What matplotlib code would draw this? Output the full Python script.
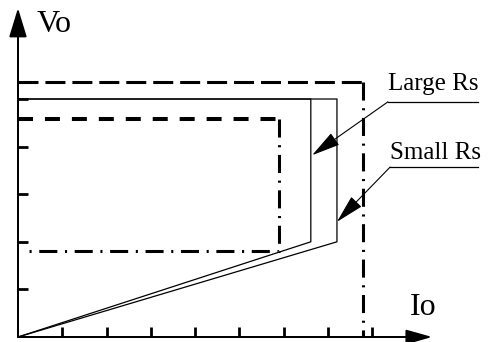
import matplotlib
matplotlib.use('Agg')
import matplotlib.pyplot as plt

plt.rcParams['font.family'] = ['Liberation Serif', 'DejaVu Serif']
plt.rcParams['lines.scale_dashes'] = False

# tick positions (arbitrary units)
x_ticks = [1, 2, 3, 4, 5, 6, 7, 8]
y_ticks = [1, 2, 3, 4, 5]

# output characteristic: Vo set point, knee voltage, current limits
vo_set = 5.0
v_knee = 2.0
i_limit_large = 6.61   # large Rs
i_limit_small = 7.20   # small Rs

# outer (max) and inner (min) spec boxes
outer_v, outer_i = 5.36, 7.79
inner_v, inner_i, inner_vlow, inner_i0 = 4.59, 5.89, 1.81, 0.16

# annotation positions
large_lbl = (8.35, 4.94)
large_tip = (6.64, 3.82)
small_lbl = (8.40, 3.57)
small_tip = (7.20, 2.42)
lbl_end = 10.38

fig = plt.figure(figsize=(4.89, 3.42), dpi=100)
ax = fig.add_axes([0, 0, 1, 1])
ax.set_xlim(-0.406, 10.632)
ax.set_ylim(-0.105, 7.08)

for s in ['top', 'right']:
    ax.spines[s].set_visible(False)
ax.spines['left'].set_position(('data', 0))
ax.spines['bottom'].set_position(('data', 0))
ax.spines['left'].set_bounds(0, 6.5)
ax.spines['bottom'].set_bounds(0, 9.0)
ax.spines['left'].set_linewidth(1.4)
ax.spines['bottom'].set_linewidth(1.4)
ax.set_xticks(x_ticks)
ax.set_yticks(y_ticks)
ax.set_xticklabels([])
ax.set_yticklabels([])
ax.tick_params(direction='in', length=7, width=2.0)

# axis arrows
ax.annotate('', xy=(0, 6.91), xytext=(0, 0),
            arrowprops=dict(arrowstyle='-|>,head_length=18,head_width=5.5',
                            mutation_scale=1, lw=1.4, color='k',
                            shrinkA=0, shrinkB=0))
ax.annotate('', xy=(9.35, 0), xytext=(0, 0),
            arrowprops=dict(arrowstyle='-|>,head_length=16,head_width=4.5',
                            mutation_scale=1, lw=1.4, color='k',
                            shrinkA=0, shrinkB=0))
ax.text(0.41, 6.41, 'Vo', fontsize=23)
ax.text(8.85, 0.46, 'Io', fontsize=23)

dashdot = (0, (13, 5.5, 1.5, 5.5))

# outer box
ax.plot([0, outer_i], [outer_v, outer_v], color='k', lw=2.2,
        linestyle=(0, (14.4, 5)))
ax.plot([outer_i, outer_i], [outer_v, 0], color='k', lw=2.2, linestyle=dashdot)

# inner box
ax.plot([0, inner_i], [inner_v, inner_v], color='k', lw=2.9,
        linestyle=(0, (10.8, 8.6)))
ax.plot([inner_i, inner_i, inner_i0], [inner_v, inner_vlow, inner_vlow],
        color='k', lw=2.2, linestyle=dashdot)

# characteristics
for il in [i_limit_large, i_limit_small]:
    ax.plot([0, il, il, 0], [vo_set, vo_set, v_knee, 0], color='k', lw=0.9)

# labels
for lbl, start, tip, dy in [('Large Rs', large_lbl, large_tip, 0.25),
                            ('Small Rs', small_lbl, small_tip, 0.17)]:
    ax.text(start[0], start[1] + dy, lbl, fontsize=18)
    ax.plot([start[0], lbl_end], [start[1], start[1]], color='k', lw=0.9)
    ax.annotate('', xy=tip, xytext=start,
                arrowprops=dict(arrowstyle='-|>,head_length=18,head_width=4.5',
                                mutation_scale=1, lw=0.8, color='k',
                                shrinkA=0, shrinkB=0))

fig.savefig('out.png', dpi=100)
